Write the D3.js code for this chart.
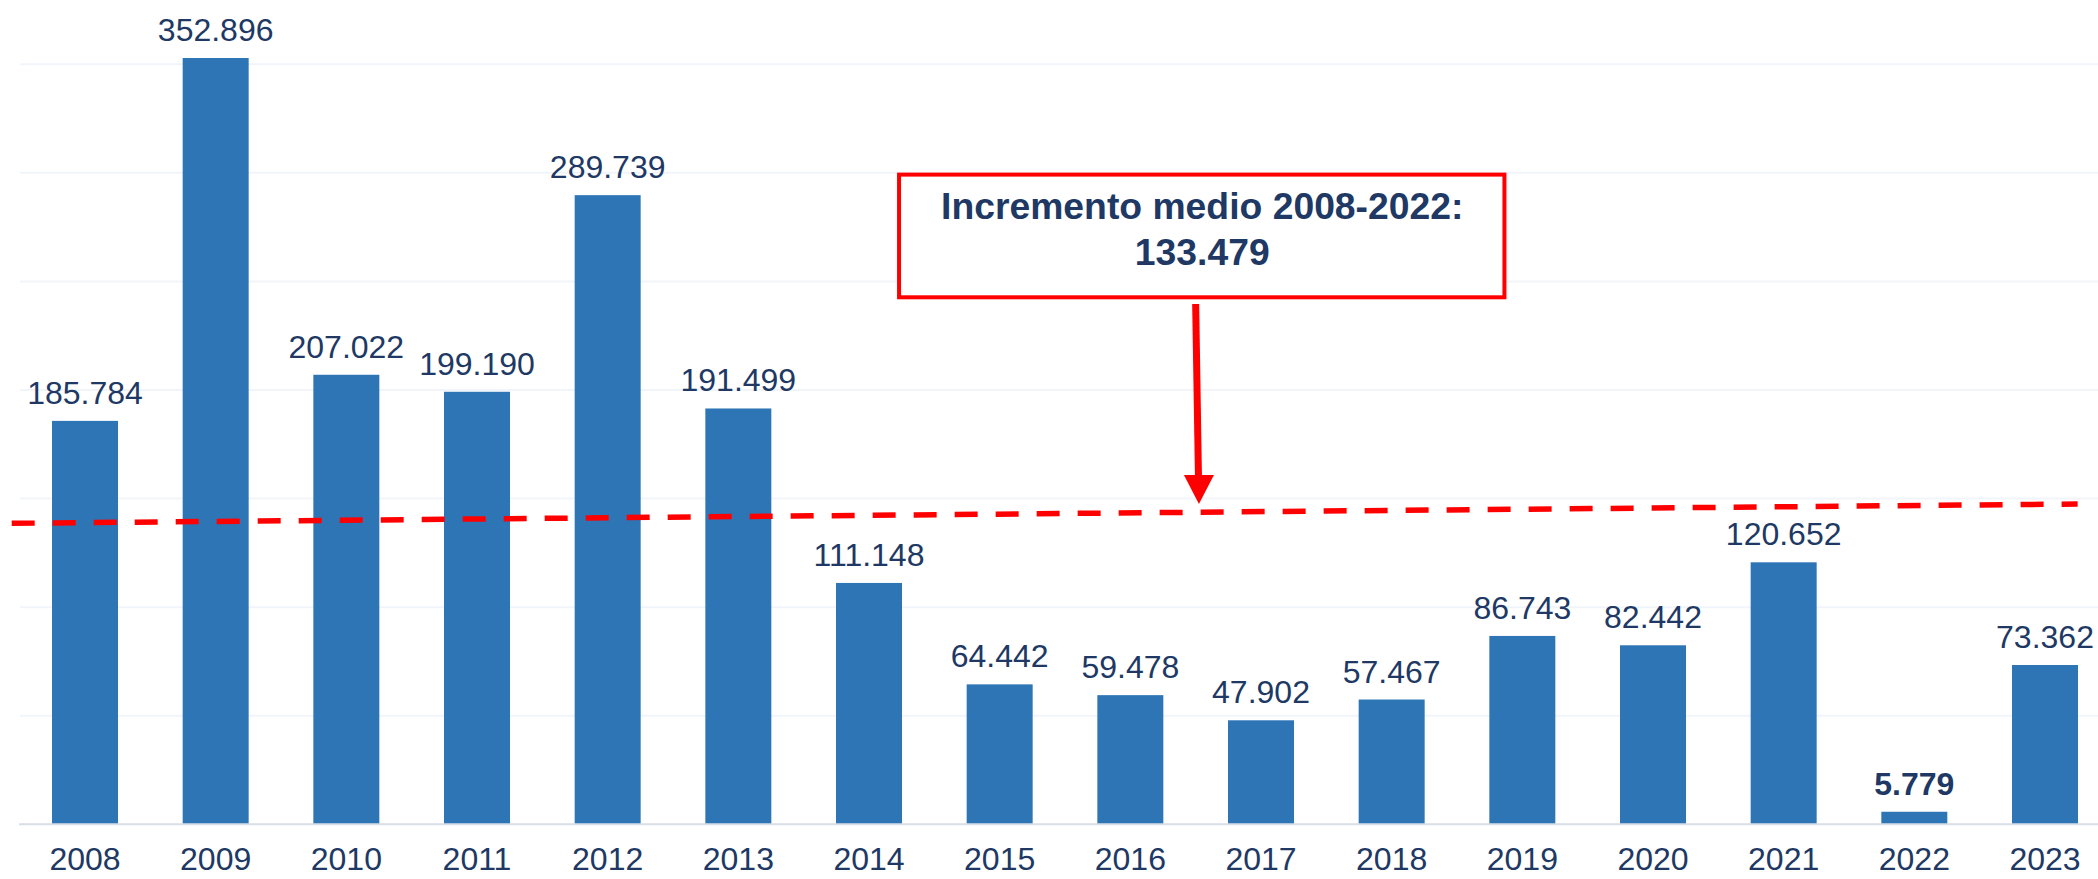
<!DOCTYPE html>
<html>
<head>
<meta charset="utf-8">
<script src="https://cdn.jsdelivr.net/npm/d3@7"></script>
<style>
  html, body { margin: 0; padding: 0; background: #ffffff; }
  svg { display: block; }
  text { font-family: "Liberation Sans", Arial, Helvetica, sans-serif; }
</style>
</head>
<body>
<svg id="chart" width="2098" height="879"></svg>
<script>
// ---- data ----
const years = ["2008","2009","2010","2011","2012","2013","2014","2015","2016","2017","2018","2019","2020","2021","2022","2023"];
const values = [185784, 352896, 207022, 199190, 289739, 191499, 111148, 64442, 59478, 47902, 57467, 86743, 82442, 120652, 5779, 73362];
const boldYears = ["2022"];
const gridTicks = [50000, 100000, 150000, 200000, 250000, 300000, 350000];
const annotationLines = ["Incremento medio 2008-2022:", "133.479"];
// dashed guide line: [index position, value] at each end
const guideLine = [[-0.561, 138600], [15.25, 147500]];
// arrow: from [index, value] to tip [index, value]
const arrowPts = [[8.50, 239600], [8.525, 147500]];
// annotation box: index span and value span
const boxIdx = [6.23, 10.863];
const boxVal = [299200, 242700];

// ---- layout ----
const W = 2098, H = 879;
const svg = d3.select("#chart");
const navy = "#203864";
const barColor = "#2e75b6";
const red = "#ff0000";

const x = d3.scaleBand().domain(years).range([19.67, 2110.33]).paddingInner(0.495).paddingOuter(0.2475);
const y = d3.scaleLinear().domain([0, 350000]).range([824.3, 64.3]);
// continuous index scale aligned with band centers
const xi = d3.scaleLinear().domain([0, 1]).range([x(years[0]) + x.bandwidth()/2, x(years[1]) + x.bandwidth()/2]);

const loc = d3.formatLocale({decimal: ",", thousands: ".", grouping: [3], currency: ["", "€"]});
const fmt = loc.format(",d");

// gridlines
svg.append("g")
  .selectAll("line").data(gridTicks).join("line")
  .attr("x1", 20).attr("x2", W)
  .attr("y1", d => y(d)).attr("y2", d => y(d))
  .attr("stroke", "#f1f5fa").attr("stroke-width", 2);

// bars
svg.append("g")
  .selectAll("rect").data(years).join("rect")
  .attr("x", d => x(d))
  .attr("width", x.bandwidth())
  .attr("y", (d, i) => y(values[i]))
  .attr("height", (d, i) => y(0) - y(values[i]))
  .attr("fill", barColor);

// x axis
const xAxis = d3.axisBottom(x).tickSize(0).tickPadding(0);
const gx = svg.append("g").attr("transform", `translate(0,${y(0)})`).call(xAxis);
gx.select(".domain").remove();
gx.append("line").attr("x1", 19).attr("x2", W).attr("y1", 0).attr("y2", 0)
  .attr("stroke", "#d9dee6").attr("stroke-width", 2);
gx.selectAll(".tick text")
  .attr("y", 0).attr("dy", 0)
  .attr("transform", "translate(0,46)")
  .attr("font-size", 32)
  .attr("fill", navy)
  .attr("font-family", "'Liberation Sans', Arial, sans-serif");

// value labels
svg.append("g")
  .selectAll("text").data(years).join("text")
  .attr("x", d => x(d) + x.bandwidth()/2)
  .attr("y", (d, i) => y(values[i]) - 17)
  .attr("text-anchor", "middle")
  .attr("font-size", 32)
  .attr("font-weight", d => boldYears.includes(d) ? "bold" : "normal")
  .attr("fill", navy)
  .text((d, i) => fmt(values[i]));

// dashed guide line
svg.append("line")
  .attr("x1", xi(guideLine[0][0])).attr("y1", y(guideLine[0][1]))
  .attr("x2", xi(guideLine[1][0])).attr("y2", y(guideLine[1][1]))
  .attr("stroke", red).attr("stroke-width", 5.5)
  .attr("stroke-dasharray", "23 18");

// annotation box
const bx0 = xi(boxIdx[0]), bx1 = xi(boxIdx[1]);
const by0 = y(boxVal[0]), by1 = y(boxVal[1]);
svg.append("rect")
  .attr("x", bx0).attr("y", by0)
  .attr("width", bx1 - bx0).attr("height", by1 - by0)
  .attr("fill", "#ffffff").attr("stroke", red).attr("stroke-width", 4);
const bcx = (bx0 + bx1) / 2 + 0.5;
svg.append("g").selectAll("text").data(annotationLines).join("text")
  .attr("x", bcx)
  .attr("y", (d, i) => by0 + 44.6 + i * 45.3)
  .attr("text-anchor", "middle")
  .attr("font-size", 37.3)
  .attr("font-weight", "bold")
  .attr("fill", navy)
  .text(d => d);

// arrow
const ax0 = xi(arrowPts[0][0]), ay0 = y(arrowPts[0][1]);
const ax1 = xi(arrowPts[1][0]), ay1 = y(arrowPts[1][1]);
const headLen = 29, headHalf = 15;
svg.append("line")
  .attr("x1", ax0).attr("y1", ay0)
  .attr("x2", ax1 - (ax1 - ax0) * headLen / (ay1 - ay0)).attr("y2", ay1 - headLen + 1)
  .attr("stroke", red).attr("stroke-width", 7);
svg.append("path")
  .attr("d", d3.line()([[ax1 - headHalf, ay1 - headLen], [ax1 + headHalf, ay1 - headLen], [ax1, ay1]]) + "Z")
  .attr("fill", red);
</script>
</body>
</html>
